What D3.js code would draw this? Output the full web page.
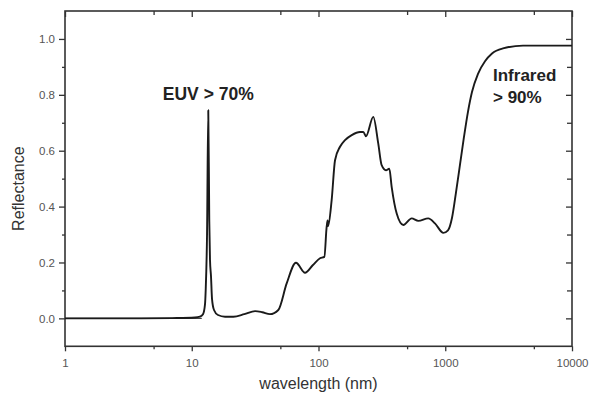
<!DOCTYPE html>
<html>
<head>
<meta charset="utf-8">
<script src="https://cdn.jsdelivr.net/npm/d3@7"></script>
<style>
  html, body { margin: 0; padding: 0; background: #fff; }
  svg { display: block; font-family: Arial, "Liberation Sans", Helvetica, sans-serif; }
</style>
</head>
<body>
<svg id="chart" width="589" height="403"></svg>
<script>
// ---- data ----
const wavelength = [1, 2, 4, 7, 10.6, 11.6, 12.27, 12.72, 12.88, 13.2, 13.5, 13.75, 13.93, 14.19, 14.45, 14.98, 16.1, 18.3,
  21.3, 26, 31.6, 36, 41.4, 48.2, 56.1, 66.4, 78.3, 90, 102.8, 111.2, 116, 118, 119, 127, 135, 147.8, 161.9, 182.8,
  212.5, 225.6, 237, 270.5, 296, 315, 340.8, 361.9, 378, 414, 466.9, 543.4, 612.6, 734.6, 829.6, 965.6, 1051,
  1131, 1215, 1307, 1406, 1512, 1625, 1813, 2059, 2339, 2855, 4106, 10000];
const reflectance = [0.0, 0.0, 0.0, 0.001, 0.003, 0.006, 0.015, 0.05, 0.10, 0.30, 0.745, 0.35, 0.21, 0.15, 0.07, 0.03, 0.012, 0.006,
  0.006, 0.015, 0.026, 0.022, 0.015, 0.03, 0.125, 0.199, 0.163, 0.19, 0.215, 0.22, 0.328, 0.35, 0.33, 0.423, 0.566, 0.614, 0.638, 0.656,
  0.667, 0.667, 0.652, 0.721, 0.626, 0.548, 0.530, 0.536, 0.47, 0.375, 0.334, 0.358, 0.349, 0.358, 0.34, 0.306, 0.315,
  0.36, 0.45, 0.55, 0.65, 0.74, 0.81, 0.875, 0.92, 0.948, 0.966, 0.976, 0.976];
const xTickValues = [1, 10, 100, 1000, 10000];
const xTickLabels = ["1", "10", "100", "1000", "10000"];
const xMinorTicks = [5, 50, 500, 5000];
const yTickValues = [0.0, 0.2, 0.4, 0.6, 0.8, 1.0];
const yTickLabels = ["0.0", "0.2", "0.4", "0.6", "0.8", "1.0"];
const yMinorTicks = [0.1, 0.3, 0.5, 0.7, 0.9];
const annotations = [
  { text: "EUV > 70%", x: 13.5, y: 0.78 },
  { text: "Infrared", x: 2150, y: 0.85 },
  { text: "> 90%", x: 2150, y: 0.77 }
];

// ---- layout ----
const mLeft = 65, mRight = 572, mTop = 11, mBottom = 346.3;
const svg = d3.select("#chart");
const x = d3.scaleLog().domain([1, 10000]).range([mLeft, mRight]);
const y = d3.scaleLinear().domain([-0.1, 1.1]).range([mBottom, mTop]);
const axisColor = "#333";

// axes
const gB = svg.append("g").attr("transform", `translate(0,${mBottom})`)
  .call(d3.axisBottom(x).tickValues(xTickValues).tickFormat((d, i) => xTickLabels[i]).tickSize(5).tickPadding(8));
const gBm = svg.append("g").attr("transform", `translate(0,${mBottom})`)
  .call(d3.axisBottom(x).tickValues(xMinorTicks).tickFormat("").tickSize(3));
const gT = svg.append("g").attr("transform", `translate(0,${mTop})`)
  .call(d3.axisBottom(x).tickValues(xTickValues).tickFormat("").tickSize(6));
const gTm = svg.append("g").attr("transform", `translate(0,${mTop})`)
  .call(d3.axisBottom(x).tickValues(xMinorTicks).tickFormat("").tickSize(4));
const gL = svg.append("g").attr("transform", `translate(${mLeft},0)`)
  .call(d3.axisLeft(y).tickValues(yTickValues).tickFormat((d, i) => yTickLabels[i]).tickSize(6).tickPadding(4));
const gLm = svg.append("g").attr("transform", `translate(${mLeft},0)`)
  .call(d3.axisLeft(y).tickValues(yMinorTicks).tickFormat("").tickSize(3));
const gR = svg.append("g").attr("transform", `translate(${mRight},0)`)
  .call(d3.axisLeft(y).tickValues(yTickValues).tickFormat("").tickSize(6));
const gRm = svg.append("g").attr("transform", `translate(${mRight},0)`)
  .call(d3.axisLeft(y).tickValues(yMinorTicks).tickFormat("").tickSize(5));

[gB, gBm, gT, gTm, gL, gLm, gR, gRm].forEach(g => {
  g.select(".domain").remove();
  g.selectAll(".tick line").attr("stroke", axisColor).attr("stroke-width", 1.3);
  g.selectAll(".tick text").attr("fill", "#555").attr("font-size", 11.5);
});

// frame
svg.append("rect").attr("x", mLeft).attr("y", mTop).attr("width", mRight - mLeft).attr("height", mBottom - mTop)
  .attr("fill", "none").attr("stroke", axisColor).attr("stroke-width", 1.6);

// zero reference line
svg.append("line").attr("x1", mLeft).attr("x2", x(12)).attr("y1", y(0)).attr("y2", y(0))
  .attr("stroke", "#444").attr("stroke-width", 1.2);

// curve
const pts = wavelength.map((w, i) => [w, reflectance[i]]);
const line = d3.line().x(d => x(d[0])).y(d => y(d[1])).curve(d3.curveMonotoneX);
svg.append("path").datum(pts).attr("d", line)
  .attr("fill", "none").attr("stroke", "#1a1a1a").attr("stroke-width", 1.9).attr("stroke-linejoin", "round");

// annotations
svg.append("text").attr("x", x(annotations[0].x)).attr("y", y(annotations[0].y)).attr("text-anchor", "middle")
  .attr("font-weight", "bold").attr("font-size", 17.5).attr("fill", "#222").text(annotations[0].text);
svg.append("text").attr("x", 493).attr("y", y(annotations[1].y)).attr("font-weight", "bold")
  .attr("font-size", 17).attr("fill", "#222").text(annotations[1].text);
svg.append("text").attr("x", 493).attr("y", y(annotations[2].y)).attr("font-weight", "bold")
  .attr("font-size", 17).attr("fill", "#222").text(annotations[2].text);

// axis titles
svg.append("text").attr("x", (mLeft + mRight) / 2).attr("y", 389).attr("text-anchor", "middle")
  .attr("font-size", 16).attr("fill", "#333").text("wavelength (nm)");
svg.append("text").attr("transform", `translate(24,${(mTop + mBottom) / 2 + 10}) rotate(-90)`).attr("text-anchor", "middle")
  .attr("font-size", 16).attr("fill", "#333").text("Reflectance");
</script>
</body>
</html>
